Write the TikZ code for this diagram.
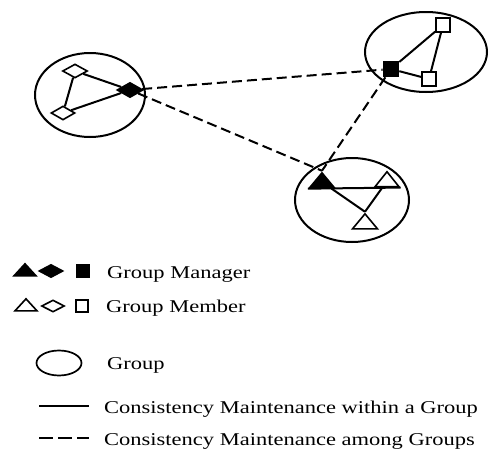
\documentclass[tikz,border=0pt]{standalone}
\usepackage{fontspec}
\setmainfont{Liberation Serif}[FakeStretch=1.25]
\usetikzlibrary{shapes.geometric}

\begin{document}
\begin{tikzpicture}[x=1pt,y=-1pt,
  grp/.style={draw, line width=2pt, ellipse, inner sep=0pt},
  link/.style={line width=2pt},
  glink/.style={line width=2pt, dash pattern=on 10pt off 5pt},
  sym/.style={draw, line width=1.6pt, inner sep=0pt, fill=white},
  mgr/.style={fill=black},
  dia/.style args={#1x#2}{diamond, minimum width=#1, minimum height=#2},
  sqr/.style={rectangle, minimum size=#1},
  tri/.style args={#1x#2}{isosceles triangle, shape border rotate=90, isosceles triangle stretches,
              minimum width=#1, minimum height=#2},
  lbl/.style={anchor=base west, inner sep=0pt, font=\fontsize{18}{20}\selectfont}]
\useasboundingbox (0,0) rectangle (499,461);

% ---- groups ----
\node[grp, minimum width=110pt, minimum height=84pt] (gA) at (90,95) {};
\node[grp, minimum width=122pt, minimum height=80pt] (gB) at (426,52) {};
\node[grp, minimum width=114pt, minimum height=84pt] (gC) at (352,200) {};

% ---- members and managers ----
\node[sym, mgr, dia=26ptx15pt] (mgrA) at (130,90) {};
\node[sym, dia=25ptx14pt] (memA1) at (75,71) {};
\node[sym, dia=24ptx14pt] (memA2) at (63,113) {};

\node[sym, mgr, sqr=15pt] (mgrB) at (391,69) {};
\node[sym, sqr=14pt] (memB1) at (443,25) {};
\node[sym, sqr=14pt] (memB2) at (429,79) {};

\node[sym, mgr, tri=25ptx15pt] (mgrC) at (322,182) {};
\node[sym, tri=24ptx15pt] (memC1) at (387,181) {};
\node[sym, tri=25ptx15pt] (memC2) at (365,223) {};

% ---- consistency links inside each group ----
\draw[link] (memA1) -- (mgrA);
\draw[link] (memA2) -- (mgrA);
\draw[link] (memA1) -- (memA2);
\draw[link] (mgrB) -- (memB1);
\draw[link] (mgrB) -- (memB2);
\draw[link] (memB1) -- (memB2);
\draw[link] (mgrC.left corner) -- (memC1.right corner);
\draw[link] (mgrC) -- (memC2.apex);
\draw[link] (memC1) -- (memC2.apex);

% ---- consistency links between groups ----
\draw[glink] (mgrA) -- (mgrB);
\draw[glink] (mgrA) -- (mgrC.apex);
\draw[glink] (mgrB) -- (mgrC.apex);

% ---- legend ----
\node[sym, mgr, tri=22ptx12pt] (kTa) at (25,271) {};
\node[sym, mgr, dia=24ptx13pt] (kDa) at (51,271) {};
\node[sym, mgr, sqr=12pt] (kSa) at (83,271) {};
\node[lbl] (kMgr) at (107,278) {Group Manager};

\node[sym, tri=22ptx12pt] (kTb) at (26,306) {};
\node[sym, dia=23ptx12pt] (kDb) at (53,306) {};
\node[sym, sqr=12pt] (kSb) at (82,306) {};
\node[lbl] (kMem) at (106,312) {Group Member};

\node[grp, line width=1.7pt, minimum width=45pt, minimum height=25pt] (kG) at (59,363) {};
\node[lbl] (kGrp) at (107,369) {Group};

\coordinate (kL1) at (39,406);
\coordinate (kL2) at (89,406);
\draw[link] (kL1) -- (kL2);
\node[lbl] (kIn) at (104,413) {Consistency Maintenance within a Group};

\coordinate (kD1) at (39,438);
\coordinate (kD2) at (89,438);
\draw[glink, dash pattern=on 14pt off 5pt] (kD1) -- (kD2);
\node[lbl] (kAm) at (104,445) {Consistency Maintenance among Groups};
\end{tikzpicture}
\end{document}
